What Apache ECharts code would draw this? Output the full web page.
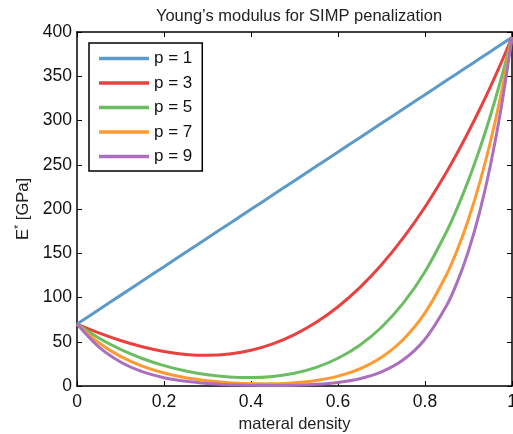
<!DOCTYPE html>
<html>
<head>
<meta charset="utf-8">
<script src="https://cdn.jsdelivr.net/npm/echarts@6/dist/echarts.min.js"></script>
<style>
  html, body { margin: 0; padding: 0; background: #fff; }
  #chart { width: 513px; height: 434px; }
</style>
</head>
<body>
<div id="chart"></div>
<script>
// 读图得到的数据 (material density -> E*)
const density = [0, 0.05, 0.1, 0.15, 0.2, 0.25, 0.3, 0.35, 0.4, 0.45, 0.5, 0.55, 0.6, 0.65, 0.7, 0.75, 0.8, 0.85, 0.875, 0.9, 0.925, 0.95, 0.975, 1]
const p1 = [70, 86.2, 102.4, 118.6, 134.8, 151, 167.2, 183.4, 199.6, 215.8, 232, 248.2, 264.4, 280.6, 296.8, 313, 329.2, 345.4, 353.5, 361.6, 369.7, 377.8, 385.9, 394]
const p3 = [70, 60.07, 51.42, 44.32, 38.99, 35.69, 34.65, 36.11, 40.34, 47.55, 58.0, 71.93, 89.58, 111.2, 137.03, 167.31, 202.29, 242.21, 264.09, 287.3, 311.83, 337.8, 365.18, 394]
const p5 = [70, 54.16, 41.34, 31.09, 23.06, 17.0, 12.72, 10.19, 9.48, 10.79, 14.5, 21.12, 31.36, 46.09, 66.39, 93.57, 129.13, 174.82, 202.09, 232.65, 266.81, 304.87, 347.15, 394]
const p7 = [70, 48.88, 33.48, 22.44, 14.68, 9.36, 5.85, 3.68, 2.61, 2.54, 3.63, 6.26, 11.14, 19.36, 32.47, 52.6, 82.62, 126.31, 154.72, 188.45, 228.29, 275.15, 330.01, 394]
const p9 = [70, 44.12, 27.12, 16.21, 9.40, 5.26, 2.82, 1.49, 0.81, 0.62, 0.91, 1.86, 3.99, 8.16, 15.9, 29.58, 52.88, 91.26, 118.46, 152.64, 195.33, 248.32, 313.72, 394]

const names = ['p = 1', 'p = 3', 'p = 5', 'p = 7', 'p = 9']
const values = [p1, p3, p5, p7, p9]
const colors = ['#5b9ac9', '#e9413f', '#6cbd62', '#ff9a30', '#ab6fbf']

const FONT = 'Liberation Sans, Arial, sans-serif'

const chart = echarts.init(document.getElementById('chart'), null, { renderer: 'canvas' })

const axisLine = { show: true, onZero: false, lineStyle: { color: '#000', width: 1.5 } }
const tick = { show: true, inside: true, length: 5, lineStyle: { color: '#000', width: 1 } }

chart.setOption({
  animation: false,
  title: {
    text: 'Young\u2019s modulus for SIMP penalization',
    left: 294, top: 3, textAlign: 'center',
    textStyle: { fontFamily: FONT, fontSize: 16.5, fontWeight: 'normal', color: '#222' }
  },
  legend: {
    orient: 'vertical',
    left: 89, top: 43,
    width: 111,
    padding: [7, 10, 6, 10],
    borderColor: '#000', borderWidth: 1.5, backgroundColor: '#fff',
    icon: 'rect', itemWidth: 50, itemHeight: 3.5, itemGap: 7.5,
    textStyle: { fontFamily: FONT, fontSize: 17, color: '#111' },
    data: names
  },
  grid: { left: 77, right: 1, top: 32, bottom: 48, containLabel: false, outerBoundsMode: 'none' },
  xAxis: [{
    type: 'value', min: 0, max: 1, interval: 0.2,
    name: 'materal density', nameLocation: 'middle', nameGap: 30,
    nameTextStyle: { fontFamily: FONT, fontSize: 16.5, color: '#222' },
    axisLine, axisTick: tick, splitLine: { show: false },
    axisLabel: { fontFamily: FONT, fontSize: 17.5, color: '#111', margin: 7, formatter: v => String(+v.toFixed(1)) }
  }, {
    type: 'value', min: 0, max: 1, interval: 0.2, position: 'top',
    axisLine, axisTick: tick, axisLabel: { show: false }, splitLine: { show: false }
  }],
  yAxis: [{
    type: 'value', min: 0, max: 400, interval: 50,
    name: 'E{sup|*} [GPa]', nameLocation: 'middle', nameGap: 40, nameRotate: 90,
    nameTextStyle: {
      fontFamily: FONT, fontSize: 16.5, color: '#222',
      rich: { sup: { fontFamily: FONT, fontSize: 11, verticalAlign: 'top', padding: [0, 0, 8, 0] } }
    },
    axisLine, axisTick: tick, splitLine: { show: false },
    axisLabel: { fontFamily: FONT, fontSize: 17.5, color: '#111', margin: 5 }
  }, {
    type: 'value', min: 0, max: 400, interval: 50, position: 'right',
    axisLine, axisTick: tick, axisLabel: { show: false }, splitLine: { show: false }
  }],
  series: names.map((n, i) => ({
    name: n,
    type: 'line',
    data: density.map((x, k) => [x, values[i][k]]),
    smooth: 0.3,
    showSymbol: false,
    clip: true,
    lineStyle: { width: 3, color: colors[i] },
    itemStyle: { color: colors[i] }
  }))
})
</script>
</body>
</html>
